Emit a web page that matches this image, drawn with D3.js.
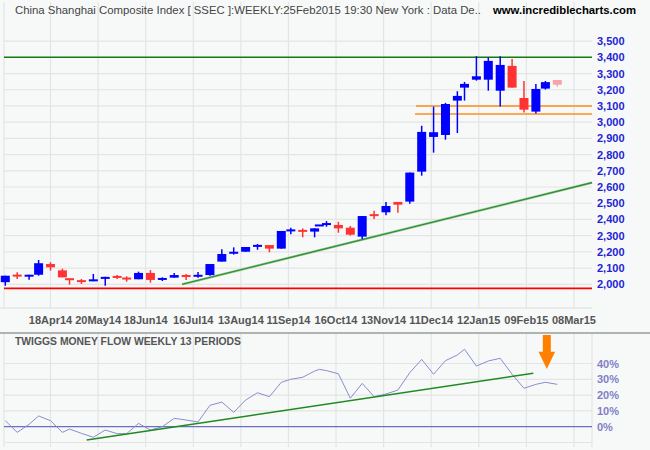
<!DOCTYPE html>
<html><head><meta charset="utf-8">
<script src="https://cdn.jsdelivr.net/npm/d3@7/dist/d3.min.js"></script>
<style>
body{margin:0;background:#f7f9f9;}
svg{display:block;font-family:"Liberation Sans",Arial,Helvetica,sans-serif;}
</style></head><body>
<svg id="c" width="650" height="450"></svg>
<script>
// ---- data (weekly candles, 21Mar14 .. 25Feb15) ----
const tradingDays = [5,5,5,4,5,5,3,5,5,5, 5,4,5,5,5,5,5,5,5,5, 5,5,5,5,5,4,5,5,2,3, 5,5,5,5,5,5,5,5,5,5, 5,3,5,5,5,5,5,5,4,5];
const opens  = [2013,2054,2047,2059,2125,2086,2032,2020,2024,2038, 2046,2036,2031,2070,2027,2041,2057,2052,2057,2140, 2194,2201,2232,2242,2220,2332,2330,2325,2360,2371, 2366,2349,2294,2427,2444,2508,2510,2695,2909,2921, 3133,3213,3262,3262,3194,3347,3149,3065,3207,3260];
const highs  = [2053,2074,2059,2150,2136,2096,2037,2033,2064,2047, 2057,2049,2078,2088,2043,2070,2064,2076,2125,2216, 2228,2230,2249,2242,2329,2349,2345,2345,2366,2390, 2386,2360,2421,2454,2508,2508,2689,2978,3096,3119, 3191,3248,3407,3400,3407,3390,3254,3236,3254,3260];
const lows   = [1991,2033,2028,2053,2084,2043,1998,2002,2019,1991, 2033,2016,2031,2010,2020,2041,2027,2041,2053,2140, 2183,2201,2213,2197,2220,2308,2290,2290,2360,2355, 2318,2300,2280,2403,2426,2442,2497,2670,2812,2892, 2933,3133,3256,3194,3096,3213,3059,3053,3201,3219];
const closes = [2053,2053,2059,2130,2105,2043,2031,2019,2025,2041, 2045,2035,2070,2027,2039,2057,2045,2053,2125,2187, 2195,2230,2242,2220,2329,2333,2329,2345,2366,2372, 2345,2306,2421,2426,2483,2491,2689,2940,2938,3112, 3162,3236,3283,3378,3353,3213,3077,3205,3247,3231];
const tmf    = [3.8,-3.6,1.5,6.8,3.8,-3.6,-1.5,-4.2,-6.7,-2.1, -4.4,-4.4,2.1,-2.1,0,5.3,4.2,3.0,13.5,15.6, 9.1,16.9,21.5,19,28.1,30,31.3,35.2,36.3,35.5, 33.5,18,27.4,19,20.7,23.2,34.2,42.6,33.2,41.8, 45.4,49,38.4,41.6,43.3,33.2,24.3,26.8,28.1,26.8];
const priceTicks = [2000,2100,2200,2300,2400,2500,2600,2700,2800,2900,3000,3100,3200,3300,3400,3500];
const pctTicks = [-10,0,10,20,30,40];
const pctLabels = [0,10,20,30,40];
const dateLabels = ["18Apr14","20May14","18Jun14","16Jul14","13Aug14","11Sep14","16Oct14","13Nov14","11Dec14","12Jan15","09Feb15","08Mar15"];
const resistance = 3400, support = 1975, zone = [3100, 3050];
const priceTrend = [[74.3,2000],[246.6,2627]];
const tmfTrend = [[34.2,-8.4],[221.9,33.8]];

// ---- derived ----
const dayIdx = [];
tradingDays.reduce((acc, d, i) => { const v = i === 0 ? 0 : acc + d; dayIdx.push(v); return v; }, 0);
const candles = opens.map((o,i)=>({i, d:dayIdx[i], o, h:highs[i], l:lows[i], c:closes[i]}));

const svg = d3.select("#c");
const L = 4, R = 592;
const x = d3.scaleLinear().domain([0,232]).range([5.3,557.3]);
const y = d3.scaleLinear().domain([2000,3500]).range([284.3,41.1]);
const y2 = d3.scaleLinear().domain([0,40]).range([426.7,363.5]);
const tickDays = dateLabels.map((_,k)=>19+20*k);

const grid = "#e3e5e5";
// background
svg.append("rect").attr("width",650).attr("height",450).attr("fill","#f7f9f9");

// top panel grid
const gTop = svg.append("g");
gTop.selectAll("line.v").data([L].concat(tickDays.map(d=>x(d)))).join("line")
  .attr("x1",d=>d).attr("x2",d=>d).attr("y1",2).attr("y2",308)
  .attr("stroke",grid).attr("stroke-width",1.2);
gTop.selectAll("line.h").data(priceTicks).join("line")
  .attr("x1",L).attr("x2",R).attr("y1",d=>y(d)).attr("y2",d=>y(d))
  .attr("stroke",grid).attr("stroke-width",1.2);
gTop.append("line").attr("x1",0).attr("x2",R).attr("y1",308).attr("y2",308).attr("stroke","#dcdede").attr("stroke-width",1.2);

// header text
svg.append("text").attr("x",15).attr("y",14).attr("font-size",11).attr("fill","#444")
  .attr("textLength",466).attr("lengthAdjust","spacingAndGlyphs")
  .text("China Shanghai Composite Index [ SSEC ]:WEEKLY:25Feb2015 19:30 New York : Data De..");
svg.append("text").attr("x",493).attr("y",14).attr("font-size",11).attr("font-weight","bold").attr("fill","#000")
  .attr("textLength",143).attr("lengthAdjust","spacingAndGlyphs")
  .text("www.incrediblecharts.com");

// price axis labels
svg.append("g").selectAll("text").data(priceTicks).join("text")
  .attr("x",597).attr("y",d=>y(d)+4).attr("font-size",11).attr("font-weight","bold")
  .attr("fill","#2323d6").text(d=>d3.format(",")(d));

// date labels
svg.append("g").selectAll("text").data(dateLabels).join("text")
  .attr("x",(d,k)=>x(tickDays[k])).attr("y",324).attr("text-anchor","middle")
  .attr("font-size",11).attr("font-weight","bold").attr("fill","#555").text(d=>d);

// horizontal reference lines
svg.append("line").attr("x1",L).attr("x2",R).attr("y1",y(resistance)).attr("y2",y(resistance))
  .attr("stroke","#157a15").attr("stroke-width",1.5);
svg.append("line").attr("x1",L).attr("x2",R).attr("y1",y(support)).attr("y2",y(support))
  .attr("stroke","#ff0000").attr("stroke-width",1.6);
svg.append("g").selectAll("line").data(zone).join("line")
  .attr("x1",(d,k)=>x(k===0?172.6:172.2)).attr("x2",R).attr("y1",d=>y(d)).attr("y2",d=>y(d))
  .attr("stroke","#ff8c1a").attr("stroke-width",1.6);

// trend line
svg.append("line").attr("x1",x(priceTrend[0][0])).attr("y1",y(priceTrend[0][1]))
  .attr("x2",x(priceTrend[1][0])).attr("y2",y(priceTrend[1][1]))
  .attr("stroke","#8fc48f").attr("stroke-width",2.4);
svg.append("line").attr("x1",x(priceTrend[0][0])).attr("y1",y(priceTrend[0][1]))
  .attr("x2",x(priceTrend[1][0])).attr("y2",y(priceTrend[1][1]))
  .attr("stroke","#2a8a2a").attr("stroke-width",1.1);

// candles
const col = c => c.i === candles.length-1 ? "#f5a3a8" : (c.c >= c.o ? "#0000ff" : "#ff3333");
const gc = svg.append("g");
gc.selectAll("line").data(candles).join("line")
  .attr("x1",c=>x(c.d)).attr("x2",c=>x(c.d)).attr("y1",c=>y(c.h)).attr("y2",c=>y(c.l))
  .attr("stroke",col).attr("stroke-width",1.5);
gc.selectAll("rect").data(candles).join("rect")
  .attr("x",c=>x(c.d)-4.5).attr("width",9)
  .attr("y",c=>{const t=y(Math.max(c.o,c.c)), b=y(Math.min(c.o,c.c)); return (b-t)<2 ? (t+b)/2-1 : t;})
  .attr("height",c=>Math.max(2, y(Math.min(c.o,c.c))-y(Math.max(c.o,c.c))))
  .attr("fill",col);

// ---- lower panel ----
svg.append("line").attr("x1",0).attr("x2",650).attr("y1",333).attr("y2",333).attr("stroke","#9a9a9a").attr("stroke-width",1.5);
const gB = svg.append("g");
gB.selectAll("line.v").data([L].concat(tickDays.map(d=>x(d)),[R])).join("line")
  .attr("x1",d=>d).attr("x2",d=>d).attr("y1",334).attr("y2",447)
  .attr("stroke",grid).attr("stroke-width",1.2);
gB.selectAll("line.h").data(pctTicks).join("line")
  .attr("x1",L).attr("x2",R).attr("y1",d=>y2(d)).attr("y2",d=>y2(d))
  .attr("stroke",d=>d===0?"#6e6ebd":grid).attr("stroke-width",1.2);
svg.append("text").attr("x",15).attr("y",345).attr("font-size",11).attr("font-weight","bold").attr("fill","#555")
  .attr("textLength",226).attr("lengthAdjust","spacingAndGlyphs").text("TWIGGS MONEY FLOW WEEKLY 13 PERIODS");
svg.append("g").selectAll("text").data(pctLabels).join("text")
  .attr("x",597).attr("y",d=>y2(d)+4).attr("font-size",11).attr("font-weight","bold")
  .attr("fill","#8080c6").text(d=>d+"%");

// TMF line
svg.append("path").datum(candles)
  .attr("d",d3.line().x(c=>x(c.d)).y(c=>y2(tmf[c.i])))
  .attr("fill","none").attr("stroke","#8b8bd0").attr("stroke-width",1);
// TMF trend
svg.append("line").attr("x1",x(tmfTrend[0][0])).attr("y1",y2(tmfTrend[0][1]))
  .attr("x2",x(tmfTrend[1][0])).attr("y2",y2(tmfTrend[1][1]))
  .attr("stroke","#1f8a1f").attr("stroke-width",1.5);

// arrow annotation
const ax = x(227.6);
const arrowPts = [[ax-4,y2(58)],[ax+4,y2(58)],[ax+4,y2(47.5)],[ax+8.3,y2(47.5)],[ax,y2(36.5)],[ax-8.3,y2(47.5)],[ax-4,y2(47.5)]];
svg.append("polygon").attr("points",arrowPts.map(p=>p.join(",")).join(" ")).attr("fill","#ff8000");
</script>
</body></html>
